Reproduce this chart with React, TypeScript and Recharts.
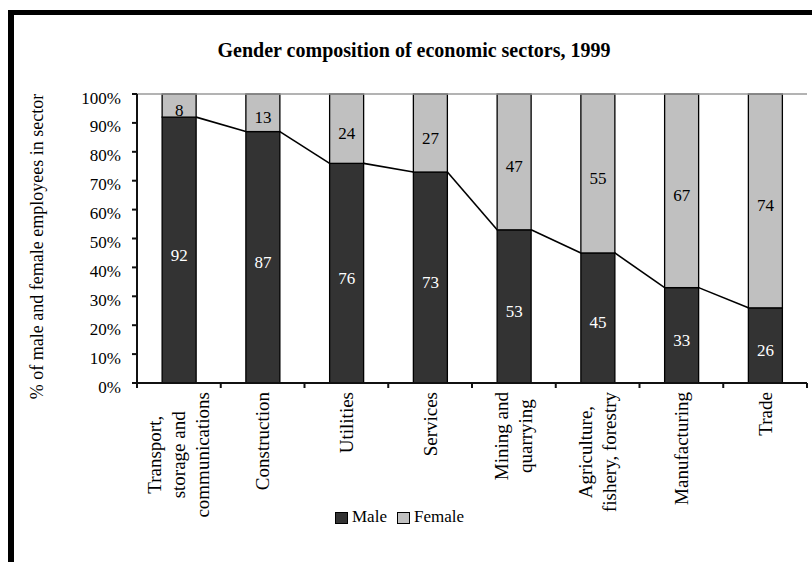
import React from 'react';
import { BarChart, Bar, XAxis, YAxis, LabelList, Legend, ReferenceLine } from 'recharts';

const sectors = [
  'Transport,\nstorage and\ncommunications',
  'Construction',
  'Utilities',
  'Services',
  'Mining and\nquarrying',
  'Agriculture,\nfishery, forestry',
  'Manufacturing',
  'Trade',
];
const maleShare = [92, 87, 76, 73, 53, 45, 33, 26];
const femaleShare = [8, 13, 24, 27, 47, 55, 67, 74];
const yTicks = [0, 10, 20, 30, 40, 50, 60, 70, 80, 90, 100];
const chartTitle = 'Gender composition of economic sectors, 1999';
const yAxisTitle = '% of male and female employees in sector';
const seriesOrder = ['Male', 'Female'];

const data = sectors.map((s, i) => ({ sector: s, male: maleShare[i], female: femaleShare[i] }));

const W = 812;
const H = 562;
const X_AXIS_H = 179;
const MARGIN = { top: 94, right: 5, bottom: 0, left: 0 };
const Y_AXIS_W = 137;
const PLOT_W = W - MARGIN.left - MARGIN.right - Y_AXIS_W;
const PLOT_H = H - MARGIN.top - MARGIN.bottom - X_AXIS_H;
const BAND = PLOT_W / data.length;
const FONT = "'Liberation Serif', 'Times New Roman', serif";
const MALE_FILL = '#333333';
const FEMALE_FILL = '#c0c0c0';
const AXIS_W = 2;
const AXIS_C = '#111111';

let ctx: CanvasRenderingContext2D | null = null;
function measure(s: string, font: string): number {
  if (!ctx) {
    const c = document.createElement('canvas');
    ctx = c.getContext('2d');
  }
  if (ctx) {
    ctx.font = font;
    return ctx.measureText(s).width;
  }
  return s.length * 9;
}

const MaleShape = (props: any) => {
  const { x, y, width, height, index } = props;
  const cur = maleShare[index];
  const next = maleShare[index + 1];
  const pxPer = height / cur;
  const bottom = y + height;
  return (
    <g>
      <rect x={x} y={y} width={width} height={height} fill={MALE_FILL} stroke="#000" strokeWidth={1.3} />
      {next !== undefined && (
        <line x1={x + width} y1={y} x2={x + BAND} y2={bottom - next * pxPer} stroke="#000" strokeWidth={1.6} />
      )}
    </g>
  );
};

const FemaleShape = (props: any) => {
  const { x, y, width, height } = props;
  return <rect x={x} y={y} width={width} height={height} fill={FEMALE_FILL} stroke="#000" strokeWidth={1.3} />;
};

const makeLabel = (color: string) => (props: any) => {
  const { x, y, width, height, value } = props;
  return (
    <text
      x={x + width / 2}
      y={y + height / 2 + 5}
      textAnchor="middle"
      dominantBaseline="central"
      fill={color}
      stroke="none"
      fontSize={17}
      fontFamily={FONT}
    >
      {value}
    </text>
  );
};

const YTick = (props: any) => {
  const { x, y, payload } = props;
  return (
    <g>
      <line x1={x + 11} y1={y} x2={x + 16} y2={y} stroke={AXIS_C} strokeWidth={AXIS_W} />
      <text
        x={x}
        y={y + 4}
        textAnchor="end"
        dominantBaseline="central"
        fontSize={17}
        fontFamily={FONT}
        fontWeight="normal"
        fill="#000"
        stroke="none"
      >
        {payload.value}%
      </text>
    </g>
  );
};

const XTick = (props: any) => {
  const { x, y, payload, index } = props;
  const lines = String(payload.value).split('\n');
  const fs = 19;
  const font = `${fs}px 'Liberation Serif'`;
  const maxLen = Math.max(...lines.map((l) => measure(l, font)));
  const top = y + 9;
  const cy = top + maxLen / 2;
  const LS = 24;
  return (
    <g>
      <line x1={x - BAND / 2} y1={y} x2={x - BAND / 2} y2={y + 5} stroke={AXIS_C} strokeWidth={AXIS_W} />
      {index === 0 && (
        <line x1={x - BAND / 2} y1={y - PLOT_H} x2={x - BAND / 2} y2={y} stroke={AXIS_C} strokeWidth={AXIS_W} />
      )}
      {index === data.length - 1 && (
        <line x1={x + BAND / 2} y1={y} x2={x + BAND / 2} y2={y + 5} stroke={AXIS_C} strokeWidth={AXIS_W} />
      )}
      {lines.map((l, j) => {
        const lx = x + (j - (lines.length - 1) / 2) * LS;
        return (
          <text
            key={j}
            x={lx}
            y={cy}
            transform={`rotate(-90 ${lx} ${cy})`}
            textAnchor="middle"
            dominantBaseline="central"
            fontSize={fs}
            fontFamily={FONT}
            fill="#000"
            stroke="none"
          >
            {l}
          </text>
        );
      })}
    </g>
  );
};

const YTitle = (props: any) => {
  const vb = props.viewBox || { x: 0, y: MARGIN.top, width: Y_AXIS_W, height: PLOT_H };
  const cx = vb.x + 37;
  const cy = vb.y + vb.height / 2 + 8;
  return (
    <text
      x={cx}
      y={cy}
      transform={`rotate(-90 ${cx} ${cy})`}
      textAnchor="middle"
      dominantBaseline="central"
      fontSize={18}
      fontFamily={FONT}
      fill="#000"
      stroke="none"
    >
      {yAxisTitle}
    </text>
  );
};

const LegendContent = (props: any) => {
  const payload = [...(props.payload || [])].sort(
    (a: any, b: any) => seriesOrder.indexOf(a.value) - seriesOrder.indexOf(b.value)
  );
  return (
    <div style={{ display: 'flex', alignItems: 'center', fontFamily: FONT, fontSize: 17, lineHeight: '22px' }}>
      {payload.map((p: any, i: number) => (
        <div key={i} style={{ display: 'flex', alignItems: 'center', marginRight: 10 }}>
          <span
            style={{
              display: 'inline-block',
              width: 11,
              height: 10,
              background: p.color,
              border: '1px solid #000',
              marginRight: 4,
              marginTop: 2,
            }}
          />
          <span>{p.value}</span>
        </div>
      ))}
    </div>
  );
};

export default function App() {
  return (
    <div style={{ position: 'absolute', left: 0, top: 0, width: W, height: H, background: '#fff', overflow: 'hidden' }}>
      <div
        style={{
          position: 'absolute',
          left: 8,
          top: 10,
          right: -10,
          bottom: -10,
          borderLeft: '6px solid #000',
          borderTop: '5px solid #000',
        }}
      />
      <div
        style={{
          position: 'absolute',
          left: 0,
          width: 828,
          top: 38,
          textAlign: 'center',
          fontFamily: FONT,
          fontWeight: 'bold',
          fontSize: 20,
          lineHeight: '24px',
        }}
      >
        {chartTitle}
      </div>
      <div style={{ position: 'absolute', left: 0, top: 0 }}>
        <BarChart width={W} height={H} data={data} margin={MARGIN} barCategoryGap="30%">
          <ReferenceLine yAxisId="l" y={100} stroke="#9a9a9a" strokeWidth={1.5} />
          <XAxis
            dataKey="sector"
            interval={0}
            height={X_AXIS_H}
            stroke={AXIS_C}
            strokeWidth={AXIS_W}
            axisLine={true}
            tickLine={false}
            tickSize={0}
            tickMargin={0}
            tick={<XTick />}
          />
          <YAxis
            yAxisId="l"
            width={Y_AXIS_W}
            domain={[0, 100]}
            ticks={yTicks}
            interval={0}
            stroke={AXIS_C}
            strokeWidth={AXIS_W}
            axisLine={true}
            tickLine={false}
            tickSize={5}
            tickMargin={11}
            tick={<YTick />}
            label={<YTitle />}
          />
          <YAxis
            yAxisId="r"
            orientation="right"
            width={0}
            domain={[0, 100]}
            tick={false}
            tickLine={false}
            stroke="#9a9a9a"
            strokeWidth={1.5}
          />
          <Bar
            yAxisId="l"
            dataKey="male"
            name="Male"
            stackId="a"
            fill={MALE_FILL}
            shape={<MaleShape />}
            isAnimationActive={false}
          >
            <LabelList dataKey="male" content={makeLabel('#fff')} />
          </Bar>
          <Bar
            yAxisId="l"
            dataKey="female"
            name="Female"
            stackId="a"
            fill={FEMALE_FILL}
            shape={<FemaleShape />}
            isAnimationActive={false}
          >
            <LabelList dataKey="female" content={makeLabel('#000')} />
          </Bar>
          <Legend
            layout="horizontal"
            verticalAlign="middle"
            align="center"
            wrapperStyle={{ position: 'absolute', left: 335, top: 506, width: 'auto', height: 'auto' }}
            content={<LegendContent />}
          />
        </BarChart>
      </div>
    </div>
  );
}
